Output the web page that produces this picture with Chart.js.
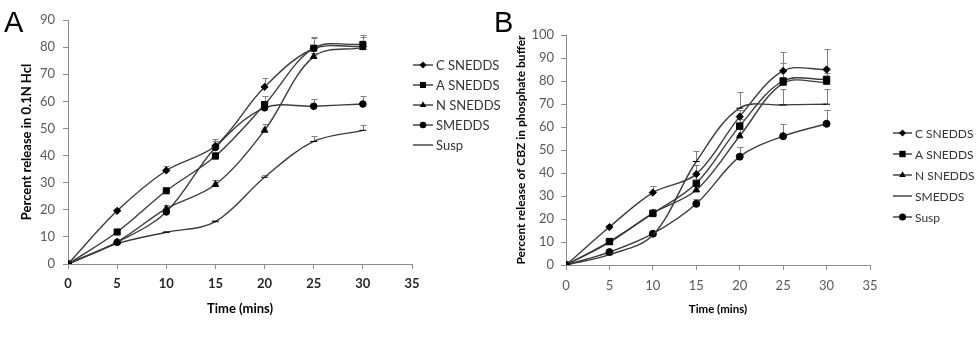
<!DOCTYPE html>
<html>
<head>
<meta charset="utf-8">
<script src="https://cdn.jsdelivr.net/npm/chart.js@4.4.1/dist/chart.umd.min.js"></script>
<style>
  html, body { margin: 0; padding: 0; background: #fff; }
  #wrap { position: relative; width: 979px; height: 340px; overflow: hidden; }
  .panel { position: absolute; top: 0; height: 340px; }
  .tag { position: absolute; font-family: "Liberation Sans", Arial, sans-serif; font-size: 29px; color: #000; }
</style>
</head>
<body>
<div id="wrap">
  <div class="panel" style="left:0;width:505px"><canvas id="chartA" width="505" height="340"></canvas></div>
  <div class="panel" style="left:480px;width:499px"><canvas id="chartB" width="499" height="340"></canvas></div>
  <div class="tag" style="left:4px;top:6px">A</div>
  <div class="tag" style="left:494px;top:6px">B</div>
</div>
<script>
const times = [0, 5, 10, 15, 20, 25, 30];
const names = ['C SNEDDS', 'A SNEDDS', 'N SNEDDS', 'SMEDDS', 'Susp'];
const xTicks = [0, 5, 10, 15, 20, 25, 30, 35];

// panel A - 0.1N HCl
const aC = [0, 19.6, 34.5, 43.6, 65.3, 79.4, 80.2];
const aA = [0, 11.8, 27.0, 39.8, 58.8, 79.6, 81.0];
const aN = [0, 8.2, 20.4, 29.3, 49.3, 76.5, 79.8];
const aSm = [0, 8.0, 19.2, 43.0, 57.6, 58.2, 59.0];
const aSusp = [0, 7.5, 11.7, 15.6, 32.0, 45.2, 49.3];
const aCerr = [0, 0.8, 1.5, 2.5, 3.2, 4.0, 3.5];
const aAerr = [0, 0.8, 1.0, 1.5, 3.0, 4.0, 3.5];
const aNerr = [0, 0.8, 1.2, 1.5, 2.5, 1.2, 1.5];
const aSmErr = [0, 0.8, 1.2, 2.5, 2.0, 2.7, 3.0];
const aSuspErr = [0, 0.5, 0.5, 0.5, 1.0, 2.0, 2.0];

// panel B - phosphate buffer
const bC = [0, 16.5, 31.5, 39.5, 64.5, 84.4, 85.0];
const bA = [0, 10.2, 22.4, 35.5, 60.4, 80.0, 80.7];
const bN = [0, 9.8, 22.6, 32.6, 56.1, 79.0, 79.4];
const bSm = [0, 4.5, 13.0, 45.0, 68.2, 69.6, 69.9];
const bSusp = [0, 5.6, 13.6, 26.6, 47.1, 56.0, 61.4];
const bCerr = [0, 1.0, 3.0, 4.0, 3.0, 8.0, 9.0];
const bAerr = [0, 1.0, 2.0, 4.0, 3.0, 8.0, 5.0];
const bNerr = [0, 1.0, 1.5, 3.0, 3.0, 6.0, 4.0];
const bSmErr = [0, 0.5, 1.0, 4.5, 7.0, 7.0, 6.5];
const bSuspErr = [0, 0.5, 1.0, 2.0, 4.0, 5.5, 6.0];

const lineCol = '#3c3c3c';
const axisCol = '#8c8c8c';

function mkSet(label, vals, errs, style, r) {
  return {
    label: label,
    data: times.map((t, i) => ({x: t, y: vals[i]})),
    errs: errs,
    borderColor: lineCol,
    borderWidth: 1.4,
    tension: 0.35,
    pointStyle: style,
    pointRadius: r,
    pointBackgroundColor: '#000',
    pointBorderColor: '#000',
    pointBorderWidth: 1
  };
}

// upper error bars with cap
const errorBars = {
  id: 'errorBars',
  beforeDatasetsDraw(chart) {
    const c = chart.ctx, xs = chart.scales.x, ys = chart.scales.y;
    c.save();
    c.strokeStyle = '#808080';
    c.lineWidth = 1;
    chart.data.datasets.forEach(ds => {
      ds.data.forEach((p, i) => {
        const e = ds.errs[i];
        if (!e) return;
        const x = Math.round(xs.getPixelForValue(p.x)) + 0.5;
        const y0 = ys.getPixelForValue(p.y);
        const y1 = Math.round(ys.getPixelForValue(p.y + e)) + 0.5;
        c.beginPath();
        c.moveTo(x, y0); c.lineTo(x, y1);
        c.moveTo(x - 3, y1); c.lineTo(x + 3, y1);
        c.stroke();
      });
    });
    c.restore();
  }
};

// legend drawn as line + marker like the spreadsheet one
const sideLegend = {
  id: 'sideLegend',
  afterDraw(chart, args, o) {
    const c = chart.ctx;
    c.save();
    c.font = o.font;
    c.textBaseline = 'middle';
    chart.data.datasets.forEach((ds, i) => {
      const y = o.y + i * o.dy;
      c.strokeStyle = lineCol;
      c.lineWidth = 1.4;
      c.beginPath();
      c.moveTo(o.x, y); c.lineTo(o.x + o.len, y);
      c.stroke();
      c.fillStyle = '#000';
      c.strokeStyle = '#000';
      c.lineWidth = 1;
      Chart.helpers.drawPoint(c, {pointStyle: ds.pointStyle, radius: ds.pointRadius, rotation: 0}, o.x + o.len / 2, y);
      c.fillStyle = '#333';
      c.fillText(ds.label, o.x + o.len + 3, y + 1);
    });
    c.restore();
  }
};

function scales(cfg) {
  return {
    x: {
      type: 'linear', min: 0, max: 35,
      afterBuildTicks: s => { s.ticks = xTicks.map(v => ({value: v})); },
      afterFit: s => { s.height = cfg.xh; },
      border: {color: axisCol, width: 1},
      grid: {drawOnChartArea: false, tickLength: 5, color: axisCol},
      ticks: {padding: cfg.xpad, color: cfg.xcol, font: {family: 'Lato', size: 13, weight: cfg.xweight}},
      title: {display: true, text: 'Time (mins)', color: '#000', padding: {top: 0, bottom: cfg.xtpad},
              font: {family: 'Lato', size: cfg.xtsize, weight: 'bold'}}
    },
    y: {
      min: 0, max: cfg.ymax,
      afterBuildTicks: s => { s.ticks = cfg.yTicks.map(v => ({value: v})); },
      afterFit: s => { s.width = cfg.yw; },
      border: {color: axisCol, width: 1},
      grid: {drawOnChartArea: false, tickLength: 5, color: axisCol},
      ticks: {padding: cfg.ypad, color: '#595959', font: {family: 'Lato', size: 13}},
      title: {display: true, text: cfg.ytitle, color: '#000', padding: {top: cfg.ytpad, bottom: 0},
              font: {family: 'Lato', size: cfg.ytsize, weight: 'bold'}}
    }
  };
}

const yTicksA = [0, 10, 20, 30, 40, 50, 60, 70, 80, 90];
const yTicksB = [0, 10, 20, 30, 40, 50, 60, 70, 80, 90, 100];

new Chart(document.getElementById('chartA'), {
  type: 'line',
  data: {
    datasets: [
      mkSet(names[0], aC, aCerr, 'rectRot', 3.6),
      mkSet(names[1], aA, aAerr, 'rect', 4.3),
      mkSet(names[2], aN, aNerr, 'triangle', 3.8),
      mkSet(names[3], aSm, aSmErr, 'circle', 3.3),
      mkSet(names[4], aSusp, aSuspErr, 'line', 3.5)
    ]
  },
  options: {
    responsive: false, animation: false,
    layout: {padding: {left: 0, top: 20, right: 93, bottom: 0}},
    scales: scales({xh: 76, xpad: 7, xcol: '#262626', xweight: 'bold', xtpad: 23, xtsize: 13,
      ymax: 90, yTicks: yTicksA, yw: 68, ypad: 8, ytitle: 'Percent release in 0.1N Hcl', ytpad: 19, ytsize: 13}),
    plugins: {
      legend: {display: false}, tooltip: {enabled: false},
      sideLegend: {x: 413, y: 65, dy: 20, len: 20, font: '13px Lato'}
    }
  },
  plugins: [errorBars, sideLegend]
});

new Chart(document.getElementById('chartB'), {
  type: 'line',
  data: {
    datasets: [
      mkSet(names[0], bC, bCerr, 'rectRot', 3.6),
      mkSet(names[1], bA, bAerr, 'rect', 4.5),
      mkSet(names[2], bN, bNerr, 'triangle', 3.8),
      mkSet(names[3], bSm, bSmErr, 'line', 3.5),
      mkSet(names[4], bSusp, bSuspErr, 'circle', 3.5)
    ]
  },
  options: {
    responsive: false, animation: false,
    layout: {padding: {left: 0, top: 35, right: 109, bottom: 0}},
    scales: scales({xh: 75, xpad: 8, xcol: '#595959', xweight: 'normal', xtpad: 24, xtsize: 11.5,
      ymax: 100, yTicks: yTicksB, yw: 86, ypad: 7, ytitle: 'Percent release of CBZ in phosphate buffer', ytpad: 34, ytsize: 12}),
    plugins: {
      legend: {display: false}, tooltip: {enabled: false},
      sideLegend: {x: 413, y: 133, dy: 21, len: 19, font: '12px Lato'}
    }
  },
  plugins: [errorBars, sideLegend]
});
</script>
</body>
</html>
